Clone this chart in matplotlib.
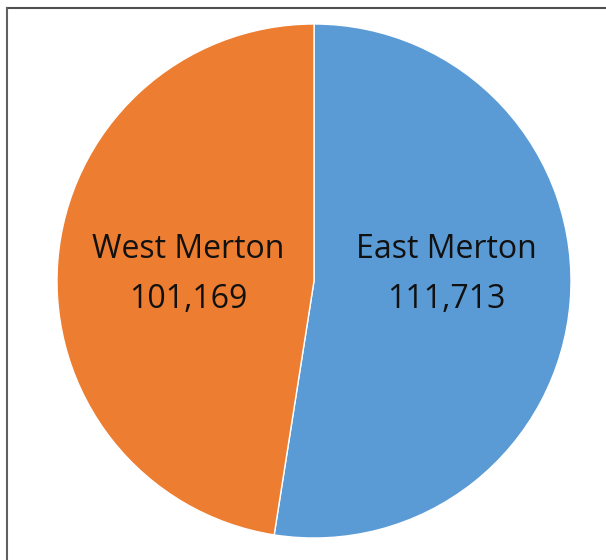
import matplotlib
matplotlib.use('Agg')
import matplotlib.pyplot as plt
from matplotlib.lines import Line2D

# datos del gráfico
nombres = ['East Merton', 'West Merton']
valores = [111713, 101169]
colores = ['#5B9BD5', '#ED7D31']

fig = plt.figure(figsize=(6.06, 5.6), dpi=100)
ax = fig.add_axes([57/606, 22/560, 514/606, 514/560])

cunas, _ = ax.pie(valores, colors=colores, startangle=90, counterclock=False,
                  radius=1, wedgeprops=dict(edgecolor='white', linewidth=1))
ax.set_xlim(-1, 1)
ax.set_ylim(-1, 1)
ax.set_aspect('equal')
ax.axis('off')

# etiquetas dentro de cada porción (nombre arriba, valor abajo)
pos = [446, 188]
for px, nom, val in zip(pos, nombres, valores):
    x = (px - 314) / 257
    ax.text(x, (281 - 250) / 257, nom, ha='center', va='center',
            fontsize=23, family='Open Sans', color='#111111')
    ax.text(x, (281 - 300) / 257, f'{val:,}', ha='center', va='center',
            fontsize=23, family='Open Sans', color='#111111')

# borde superior e izquierdo
fig.add_artist(Line2D([7/606, 1], [1 - 8/560, 1 - 8/560], color='#505050', lw=1.5))
fig.add_artist(Line2D([7/606, 7/606], [0, 1 - 8/560], color='#606060', lw=1.5))

fig.savefig('out.png', dpi=100)
